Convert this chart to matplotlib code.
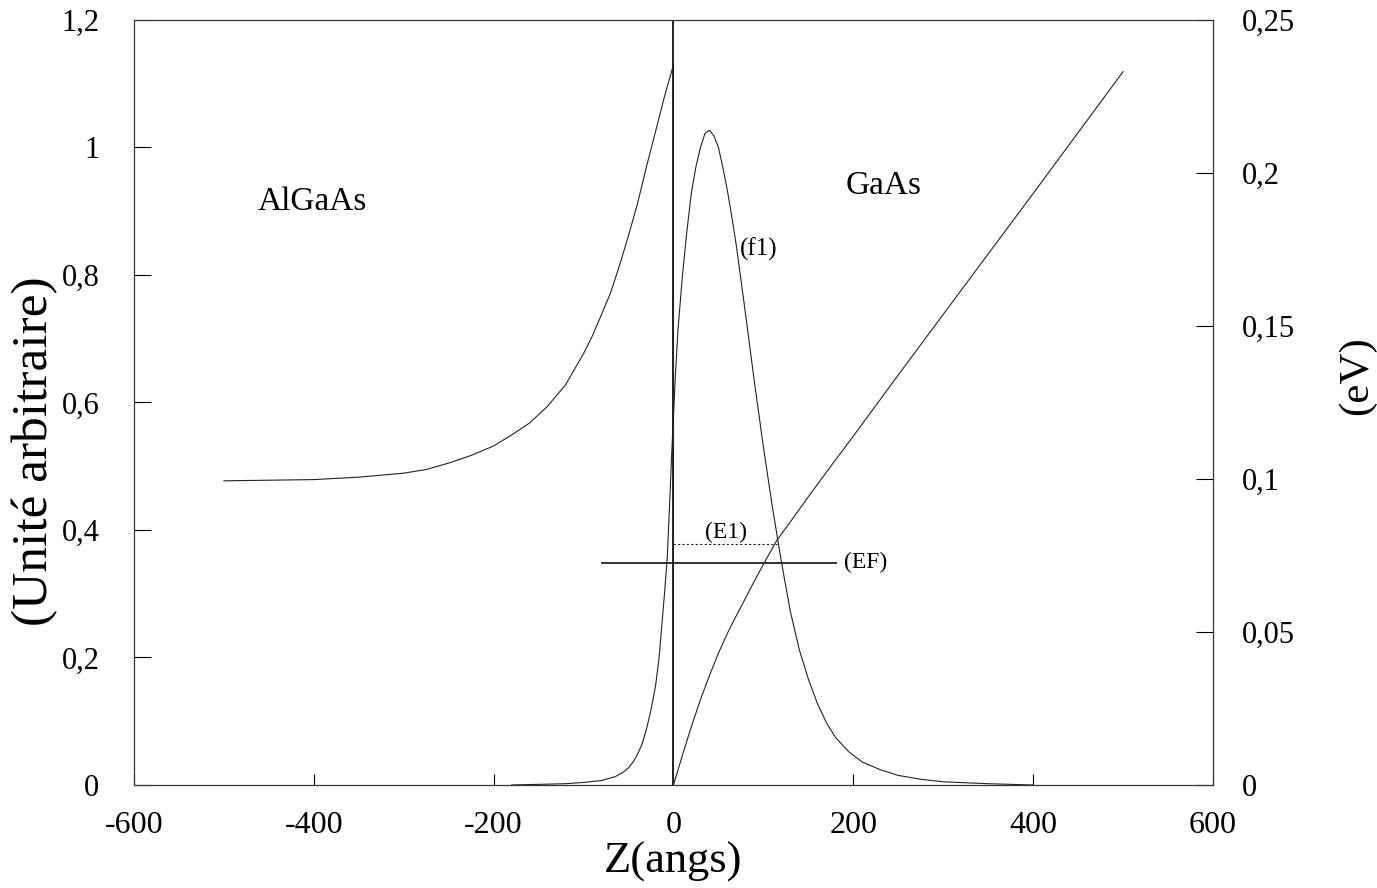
import numpy as np
import matplotlib.pyplot as plt

plt.rcParams['font.family'] = ['Liberation Serif', 'DejaVu Serif']

# conduction band profile (eV), AlGaAs side then GaAs side
z_pot = [-500, -450, -400, -350, -300, -275, -250, -225, -200, -180, -160, -140, -120,
         -100, -90, -80, -70, -60, -50, -40, -30, -20, -10, 0,
         0, 10, 20, 30, 40, 50, 60, 70, 80, 90, 100, 115, 130, 150, 175, 200, 250,
         300, 400, 500]
v_pot = [0.0994, 0.0996, 0.0998, 0.1006, 0.1019, 0.1031, 0.1052, 0.1077, 0.1108,
         0.1144, 0.1183, 0.1238, 0.1308, 0.1410, 0.1469, 0.1538, 0.1608, 0.1698,
         0.1796, 0.1900, 0.2021, 0.2135, 0.2250, 0.2354,
         0.0, 0.0098, 0.0192, 0.0279, 0.0358, 0.0431, 0.0496, 0.0554, 0.0610,
         0.0667, 0.0721, 0.0800, 0.0860, 0.0942, 0.1042, 0.1140, 0.1340, 0.1538,
         0.1933, 0.2331]

# wave function f1 (arbitrary units)
z_f1 = [-180, -150, -120, -100, -80, -65, -56, -50, -45, -40, -35, -30, -25, -20, -16,
        -13, -10, -7, -4, -2, 0, 2, 5, 10, 15, 20, 25, 30, 35, 40, 45, 50, 55, 60, 65,
        70, 80, 90, 100, 110, 120, 130, 140, 150, 160, 170, 180, 195, 210, 230, 250,
        275, 300, 350, 400]
f1 = [0.0, 0.001, 0.002, 0.004, 0.007, 0.013, 0.02, 0.027, 0.036, 0.048, 0.064, 0.088,
      0.118, 0.155, 0.2, 0.25, 0.3, 0.355, 0.45, 0.52, 0.58, 0.64, 0.714, 0.80, 0.87,
      0.93, 0.97, 1.0, 1.022, 1.027, 1.018, 1.0, 0.968, 0.932, 0.89, 0.845, 0.74,
      0.632, 0.53, 0.436, 0.35, 0.272, 0.212, 0.166, 0.128, 0.098, 0.075, 0.052,
      0.036, 0.024, 0.015, 0.009, 0.005, 0.002, 0.0]

# energy levels (eV)
E1 = 0.0787
E1_range = [0, 115]
EF = 0.0727
EF_range = [-80, 181]

left_ticks = [0, 0.2, 0.4, 0.6, 0.8, 1.0, 1.2]
left_labels = ['0', '0,2', '0,4', '0,6', '0,8', '1', '1,2']
right_ticks = [0, 0.05, 0.1, 0.15, 0.2, 0.25]
right_labels = ['0', '0,05', '0,1', '0,15', '0,2', '0,25']
x_ticks = [-600, -400, -200, 0, 200, 400, 600]

fig = plt.figure(figsize=(13.77, 8.88), dpi=100)
ax = fig.add_axes([0.0973, 0.116, 0.7836, 0.8615])
ax2 = ax.twinx()

lc = '#222222'
ax.plot(z_f1, f1, color=lc, lw=0.8)
ax.axvline(0, color=lc, lw=1.4)
ax2.plot(z_pot, v_pot, color=lc, lw=0.8)
ax2.plot(E1_range, [E1, E1], color=lc, lw=0.8, ls=(0, (2, 2)))
ax2.plot(EF_range, [EF, EF], color=lc, lw=1.3)

ax.set_xlim(-600, 600)
ax.set_ylim(0, 1.2)
ax2.set_ylim(0, 0.25)

ax.set_xticks(x_ticks)
ax.set_xticklabels([str(t) for t in x_ticks])
ax.set_yticks(left_ticks)
ax.set_yticklabels(left_labels)
ax2.set_yticks(right_ticks)
ax2.set_yticklabels(right_labels)

ax.tick_params(axis='x', direction='in', length=8, width=0.8, labelsize=23, pad=19)
ax.tick_params(axis='y', direction='in', length=12, width=0.8, labelsize=22, pad=25)
ax2.tick_params(axis='y', direction='in', length=12, width=0.8, labelsize=22, pad=21)
for a in (ax, ax2):
    for s in a.spines.values():
        s.set_linewidth(0.8)
        s.set_color('#333333')

# axis titles placed by hand to follow the original layout
fig.text(673 / 1377, 1 - 862 / 888, 'Z(angs)', fontsize=32, ha='center', va='center')
ax.text(-0.092, 0.4366, '(Unité arbitraire)', transform=ax.transAxes, rotation=90,
        fontsize=37, ha='center', va='center')
ax2.text(1.1335, 0.535, '(eV)', transform=ax2.transAxes, rotation=90,
         fontsize=31, ha='center', va='center')

ax.text(-402, 0.915, 'AlGaAs', fontsize=24, ha='center', va='center')
ax.text(234, 0.94, 'GaAs', fontsize=24, ha='center', va='center')
ax.text(95, 0.84, '(f1)', fontsize=18, ha='center', va='center')
ax2.text(58, 0.0826, '(E1)', fontsize=17, ha='center', va='center')
ax2.text(214, 0.0727, '(EF)', fontsize=17, ha='center', va='center')

fig.savefig('out.png', dpi=100)
